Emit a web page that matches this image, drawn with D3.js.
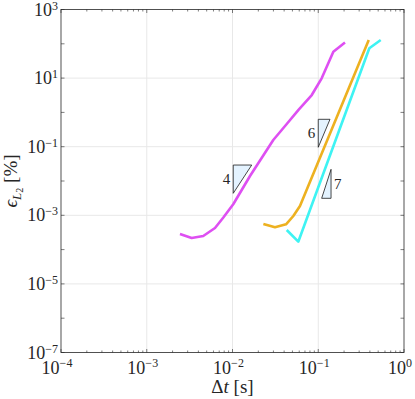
<!DOCTYPE html>
<html>
<head>
<meta charset="utf-8">
<script src="https://cdn.jsdelivr.net/npm/d3@7"></script>
<style>
  body { margin: 0; background: #fff; }
  svg text { font-family: "Liberation Serif", "Times New Roman", "DejaVu Serif", serif; fill: #262626; }
</style>
</head>
<body>
<div id="chart"></div>
<script>
// data (dt in s, error in %)
var magentaDt  = [0.00244, 0.00334, 0.00456, 0.00625, 0.00782, 0.0102, 0.0160, 0.0299, 0.0429, 0.0585, 0.0840, 0.1096, 0.150, 0.205];
var magentaErr = [2.85e-4, 2.18e-4, 2.49e-4, 4.27e-4, 8.6e-4, 2.1e-3, 1.4e-2, 0.157, 0.459, 1.17, 3.21, 9.86, 58.9, 109];

var orangeDt  = [0.0229, 0.0313, 0.0421, 0.0512, 0.0612, 0.388];
var orangeErr = [5.57e-4, 4.47e-4, 5.47e-4, 9.55e-4, 1.87e-3, 129];

var cyanDt  = [0.0429, 0.0585, 0.394, 0.535];
var cyanErr = [3.72e-4, 1.70e-4, 74.0, 129];

// slope triangles: [label, x0, x1, yTop, yBottom, side]
var slopeTris = [
  ["4", 0.0102, 0.01675, 0.0292, 0.00438, "left"],
  ["6", 0.1000, 0.1371, 0.629, 0.0962, "left"],
  ["7", 0.1096, 0.1410, 0.0219, 0.00313, "right"]
];

var xTicks = [1e-4, 1e-3, 1e-2, 1e-1, 1];
var xTickExp = ["\u22124", "\u22123", "\u22122", "\u22121", "0"];
var yTicks = [1e3, 1e1, 1e-1, 1e-3, 1e-5, 1e-7];
var yTickExp = ["3", "1", "\u22121", "\u22123", "\u22125", "\u22127"];

var svgWidth = 415;
var svgHeight = 399;
var plotLeft = 61, plotRight = 404, plotTop = 9.5, plotBottom = 352.5;

var svg = d3.select("#chart")
  .append("svg")
  .attr("width", svgWidth)
  .attr("height", svgHeight);

var xScale = d3.scaleLog().domain([1e-4, 1]).range([plotLeft, plotRight]);
var yScale = d3.scaleLog().domain([1e-7, 1e3]).range([plotBottom, plotTop]);

// grid
svg.append("g").selectAll("line").data(xTicks.slice(1, -1)).enter()
  .append("line")
  .attr("x1", function(d){ return xScale(d); })
  .attr("x2", function(d){ return xScale(d); })
  .attr("y1", plotTop).attr("y2", plotBottom)
  .attr("stroke", "#e8e8e8").attr("stroke-width", 1);

svg.append("g").selectAll("line").data(yTicks.slice(1, -1)).enter()
  .append("line")
  .attr("y1", function(d){ return yScale(d); })
  .attr("y2", function(d){ return yScale(d); })
  .attr("x1", plotLeft).attr("x2", plotRight)
  .attr("stroke", "#e8e8e8").attr("stroke-width", 1);

// minor + major ticks, pointing inward on all four sides
var xAll = xScale.ticks();
var yAll = yScale.ticks();
var tickG = svg.append("g").attr("stroke", "#262626").attr("stroke-width", 0.6);

function isMajor(d) {
  return Math.abs(Math.log10(d) - Math.round(Math.log10(d))) < 1e-9;
}

xAll.forEach(function(d){
  var len = isMajor(d) ? 3.5 : 2;
  var x = xScale(d);
  tickG.append("line").attr("x1", x).attr("x2", x).attr("y1", plotBottom).attr("y2", plotBottom - len);
  tickG.append("line").attr("x1", x).attr("x2", x).attr("y1", plotTop).attr("y2", plotTop + len);
});
yAll.forEach(function(d){
  var len = isMajor(d) ? 3.5 : 2;
  var y = yScale(d);
  tickG.append("line").attr("y1", y).attr("y2", y).attr("x1", plotLeft).attr("x2", plotLeft + len);
  tickG.append("line").attr("y1", y).attr("y2", y).attr("x1", plotRight).attr("x2", plotRight - len);
});

// box
svg.append("rect")
  .attr("x", plotLeft).attr("y", plotTop)
  .attr("width", plotRight - plotLeft).attr("height", plotBottom - plotTop)
  .attr("fill", "none").attr("stroke", "#262626").attr("stroke-width", 0.8);

// tick labels
xTicks.forEach(function(d, i){
  var t = svg.append("text")
    .attr("x", xScale(d) - 4)
    .attr("y", plotBottom + 21)
    .attr("text-anchor", "middle")
    .attr("font-size", 18);
  t.append("tspan").text("10");
  t.append("tspan").attr("dy", -7).attr("font-size", 12).text(xTickExp[i]);
});

yTicks.forEach(function(d, i){
  var t = svg.append("text")
    .attr("x", plotLeft - 3)
    .attr("y", yScale(d) + 6)
    .attr("text-anchor", "end")
    .attr("font-size", 18);
  t.append("tspan").text("10");
  t.append("tspan").attr("dy", -6).attr("font-size", 12).text(yTickExp[i]);
});

// axis titles
var xl = svg.append("text")
  .attr("x", (plotLeft + plotRight) / 2)
  .attr("y", 393)
  .attr("text-anchor", "middle")
  .attr("font-size", 19);
xl.append("tspan").text("\u0394");
xl.append("tspan").attr("font-style", "italic").text("t");
xl.append("tspan").text(" [s]");

var yl = svg.append("text")
  .attr("transform", "translate(17," + ((plotTop + plotBottom) / 2) + ") rotate(-90)")
  .attr("text-anchor", "middle")
  .attr("font-size", 19);
yl.append("tspan").attr("font-style", "italic").text("\u03f5");
yl.append("tspan").attr("font-style", "italic").attr("font-size", 13).attr("dy", 4).text("L");
yl.append("tspan").attr("font-size", 10).attr("dy", 2).text("2");
yl.append("tspan").attr("dy", -6).text(" [%]");

// slope triangles
slopeTris.forEach(function(t){
  var x0 = xScale(t[1]), x1 = xScale(t[2]), yT = yScale(t[3]), yB = yScale(t[4]);
  var pts = t[5] === "left"
    ? [[x0, yT], [x1, yT], [x0, yB]]
    : [[x1, yT], [x1, yB], [x0, yB]];
  svg.append("path")
    .attr("d", d3.line()(pts) + "Z")
    .attr("fill", "#e4f3ff")
    .attr("stroke", "#1a1a1a")
    .attr("stroke-width", 0.8);
  svg.append("text")
    .attr("x", t[5] === "left" ? x0 - 3 : x1 + 3)
    .attr("y", (yT + yB) / 2 + 5)
    .attr("text-anchor", t[5] === "left" ? "end" : "start")
    .attr("font-size", 15)
    .text(t[0]);
});

// curves
var line = d3.line()
  .x(function(d){ return xScale(d[0]); })
  .y(function(d){ return yScale(d[1]); });

var series = [
  [magentaDt, magentaErr, "#de4ff2"],
  [orangeDt, orangeErr, "#edb120"],
  [cyanDt, cyanErr, "#3ef3f3"]
];
series.forEach(function(s){
  svg.append("path")
    .datum(d3.zip(s[0], s[1]))
    .attr("d", line)
    .attr("fill", "none")
    .attr("stroke", s[2])
    .attr("stroke-width", 2.6)
    .attr("stroke-linejoin", "round");
});
</script>
</body>
</html>
